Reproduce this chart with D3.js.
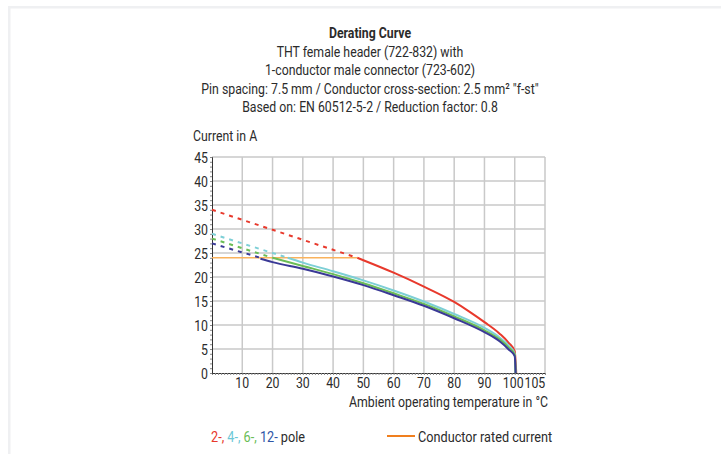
<!DOCTYPE html>
<meta charset="utf-8">
<style>
body { margin:0; background:#fff; }
text { font-family: Roboto, "Liberation Sans", sans-serif; fill:#2b2b2b; }
</style>
<body>
<script src="https://cdn.jsdelivr.net/npm/d3@7"></script>
<script>

// title lines
var titleLines = [
  "Derating Curve",
  "THT female header (722-832) with",
  "1-conductor male connector  (723-602)",
  "Pin spacing: 7.5 mm / Conductor cross-section: 2.5 mm\u00b2 \"f-st\"",
  "Based on: EN 60512-5-2 / Reduction factor: 0.8"
];

var xTicks = [10, 20, 30, 40, 50, 60, 70, 80, 90, 100, 105];
var yTicks = [0, 5, 10, 15, 20, 25, 30, 35, 40, 45];

var ratedCurrent = 24;
var ratedEnd = 48;

var poles = ["2-", "4-", "6-", "12-"];
var poleColors = ["#e8392c", "#7dcfd6", "#6bbd56", "#3a3996"];
var poleTextColors = ["#e8392c", "#6cc8d8", "#6bbd56", "#2f56a6"];

// dashed (above rated current) part: [temp, current]
var dash2 = [[0, 34], [48, 24]];
var dash4 = [[0, 29], [25, 24]];
var dash6 = [[0, 28], [20, 24]];
var dash12 = [[0, 27], [16, 24]];

// solid part
var temps2 = [48, 50, 60, 70, 80, 85, 90, 95, 98, 100, 100.5];
var vals2  = [24, 23.5, 20.9, 18.0, 14.8, 12.8, 10.6, 8.2, 6.3, 4.5, 0];
var temps4 = [25, 30, 40, 50, 60, 70, 80, 90, 95, 98, 100, 100.3];
var vals4  = [24, 23.0, 21.2, 19.3, 17.2, 14.9, 12.3, 9.4, 7.4, 5.7, 4.0, 0];
var temps6 = [20, 30, 40, 50, 60, 70, 80, 90, 95, 98, 100, 100.3];
var vals6  = [24, 22.3, 20.6, 18.7, 16.6, 14.4, 11.8, 8.9, 7.0, 5.3, 3.8, 0];
var temps12 = [16, 20, 30, 40, 50, 60, 70, 80, 90, 95, 98, 100, 100.3];
var vals12  = [23.8, 23.1, 21.7, 20.1, 18.3, 16.2, 14.0, 11.4, 8.5, 6.6, 4.9, 3.5, 0];

var width = 721, height = 454;
var sx = 0.82; // horizontal squeeze, the original font is condensed

var svg = d3.select("body").append("svg")
  .attr("width", width)
  .attr("height", height);

// light page frame
svg.append("rect").attr("x", 8).attr("y", 6).attr("width", width - 8).attr("height", 2.5).attr("fill", "#eff0f2");
svg.append("rect").attr("x", 8).attr("y", 6).attr("width", 2.5).attr("height", height).attr("fill", "#eff0f2");

function label(x, y, str, anchor, size, weight) {
  var g = svg.append("g").attr("transform", "translate(" + x + "," + y + ") scale(" + sx + ",1)");
  return g.append("text")
    .attr("text-anchor", anchor)
    .style("font-size", size + "px")
    .style("font-weight", weight || "normal")
    .text(str);
}

titleLines.forEach(function(t, i) {
  label(370, 38 + i * 18.5, t, "middle", 15, i == 0 ? "bold" : "normal");
});

var x = d3.scaleLinear().domain([0, 110]).range([212, 545]);
var y = d3.scaleLinear().domain([0, 45]).range([373, 157]);

// grid
var grid = svg.append("g");
grid.selectAll(".vg").data(d3.range(10, 111, 10)).enter().append("line")
  .attr("x1", x).attr("x2", x).attr("y1", y(0)).attr("y2", y(45))
  .attr("stroke", "#c9c9c9").attr("stroke-width", 1.5);
grid.selectAll(".hg").data(d3.range(5, 46, 5)).enter().append("line")
  .attr("x1", x(0)).attr("x2", x(110)).attr("y1", y).attr("y2", y)
  .attr("stroke", "#c9c9c9").attr("stroke-width", 1.5);

// axes with minor ticks
svg.append("g")
  .attr("transform", "translate(0," + y(0) + ")")
  .call(d3.axisBottom(x).tickValues(d3.range(0, 111, 1)).tickSize(2).tickFormat(""))
  .call(function(g) { g.select(".domain").attr("stroke", "#333"); g.selectAll(".tick line").attr("stroke", "#888"); });
svg.append("g")
  .attr("transform", "translate(" + x(0) + ",0)")
  .call(d3.axisLeft(y).tickValues(d3.range(0, 46, 1)).tickSize(2).tickFormat(""))
  .call(function(g) { g.select(".domain").attr("stroke", "#333"); g.selectAll(".tick line").attr("stroke", "#888"); });

xTicks.forEach(function(t) {
  var off = t == 105 ? 5 : (t == 100 ? -1.5 : 0);
  label(x(t) + off, 388, String(t), "middle", 15);
});
yTicks.forEach(function(t) {
  label(208, y(t) + 5.5, String(t), "end", 15);
});

label(193, 141, "Current in A", "start", 15);
label(548, 407, "Ambient operating temperature in \u00b0C", "end", 15);

// rated current line
svg.append("line")
  .attr("x1", x(0)).attr("x2", x(ratedEnd)).attr("y1", y(ratedCurrent)).attr("y2", y(ratedCurrent))
  .attr("stroke", "#f9b25c").attr("stroke-width", 1.6);

var line = d3.line().x(function(d) { return x(d[0]); }).y(function(d) { return y(d[1]); })
  .curve(d3.curveMonotoneX);

var dashes = [dash2, dash4, dash6, dash12];
var solids = [d3.zip(temps2, vals2), d3.zip(temps4, vals4), d3.zip(temps6, vals6), d3.zip(temps12, vals12)];

dashes.forEach(function(d, i) {
  svg.append("path").attr("d", line(d)).attr("fill", "none")
    .attr("stroke", poleColors[i]).attr("stroke-width", 2).attr("stroke-dasharray", "4,5");
});
solids.forEach(function(d, i) {
  svg.append("path").attr("d", line(d)).attr("fill", "none")
    .attr("stroke", poleColors[i]).attr("stroke-width", 2);
});

// legend
var lg = svg.append("g").attr("transform", "translate(211,442) scale(" + sx + ",1)");
var lt = lg.append("text").style("font-size", "15.5px");
poles.forEach(function(p, i) {
  lt.append("tspan").attr("fill", poleTextColors[i])
    .text(p + (i < poles.length - 1 ? ", " : " "));
});
lt.append("tspan").text("pole");

svg.append("line").attr("x1", 387).attr("x2", 415).attr("y1", 436).attr("y2", 436)
  .attr("stroke", "#f07f1e").attr("stroke-width", 2);
label(418, 442, "Conductor rated current", "start", 15.5);

</script>
